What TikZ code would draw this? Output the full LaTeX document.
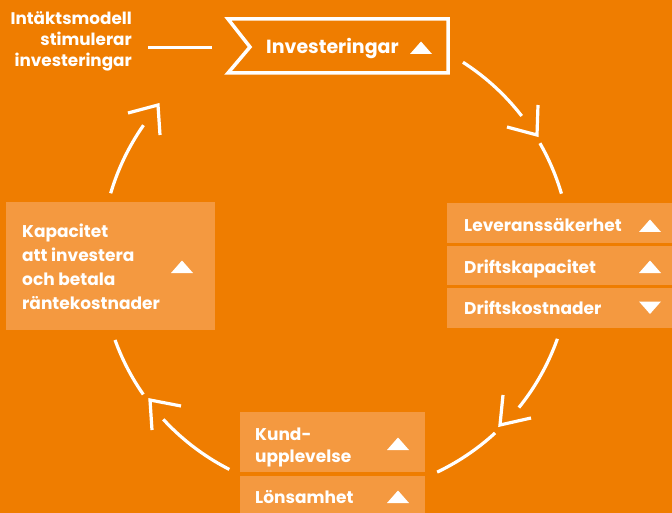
\documentclass[tikz,border=0pt]{standalone}
\usepackage{fontspec}
\setmainfont{Poppins}
\definecolor{bgorange}{RGB}{239,125,0}
\definecolor{boxorange}{RGB}{244,153,64}
\begin{document}
\begin{tikzpicture}[x=1pt,y=-1pt,
  boxfill/.style={fill=boxorange},
  arcline/.style={draw=white,line width=3.2pt},
  chev/.style={draw=white,line width=3.2pt,line join=miter},
  lbl/.style={text=white,inner sep=0pt,font=\bfseries\fontsize{17}{22}\selectfont},
  uptri/.pic={\fill[white] (-11,6) -- (11,6) -- (0,-6.5) -- cycle;},
  downtri/.pic={\fill[white] (-11,-6) -- (11,-6) -- (0,6.5) -- cycle;}]
\fill[bgorange] (0,0) rectangle (672,513);
\useasboundingbox (0,0) rectangle (672,513);

% arcs of the cycle
\foreach \a/\b in {-57.3/-37.8,-29.8/-16.4,19.6/38.9,47.4/64.5,117.0/137.3,145.1/160.1,196.5/215.0}
  \draw[arcline] plot[domain=\a:\b,samples=40,smooth] ({336+235*cos(\x)},{260+235*sin(\x)});

% chevrons
\draw[chev] (507,127) -- (537,135) -- (538,105);
\draw[chev] (503,395) -- (500,425) -- (531,418);
\draw[chev] (152,430) -- (150,400) -- (181,406);
\draw[chev] (128,113) -- (158,105) -- (160,135);

% top flag box
\draw[white,line width=3.5pt,line join=miter] (448,19) -- (228,19) -- (250,47) -- (228,73) -- (448,73) -- cycle;
\node[lbl,anchor=base west,font=\bfseries\fontsize{19}{22}\selectfont] (inv) at (266,54) {Investeringar};
\pic at (421,48) {uptri};

% top-left text and line
\node[lbl,anchor=base east,align=right,font=\bfseries\fontsize{16.8}{21}\selectfont] (model) at (132,67) {Intäktsmodell\\stimulerar\\investeringar};
\coordinate (lineL) at (148,47.5);
\coordinate (lineR) at (212,47.5);
\draw[white,line width=3.2pt] (lineL) -- (lineR);

% right boxes
\fill[boxfill] (447,203) rectangle (672,243);
\fill[boxfill] (447,246) rectangle (672,285);
\fill[boxfill] (447,288) rectangle (672,328);
\node[lbl,anchor=base west] (lev) at (464,232) {Leveranssäkerhet};
\node[lbl,anchor=base west] (dka) at (464,273) {Driftskapacitet};
\node[lbl,anchor=base west] (dko) at (464,314) {Driftskostnader};
\pic at (650,226) {uptri};
\pic at (650,267) {uptri};
\pic at (650,307.5) {downtri};

% left box
\fill[boxfill] (6,202) rectangle (215,330);
\node[lbl,anchor=base west,align=left,font=\bfseries\fontsize{17}{23.7}\selectfont] (kap) at (22,309) {Kapacitet\\att investera\\och betala\\räntekostnader};
\pic at (182,267) {uptri};

% bottom boxes
\fill[boxfill] (240,412) rectangle (425,472);
\fill[boxfill] (240,476) rectangle (425,513);
\node[lbl,anchor=base west,align=left] (kund) at (255,462) {Kund-\\upplevelse};
\node[lbl,anchor=base west] (lon) at (255,503) {Lönsamhet};
\pic at (398,444) {uptri};
\pic at (398,497) {uptri};
\end{tikzpicture}
\end{document}
